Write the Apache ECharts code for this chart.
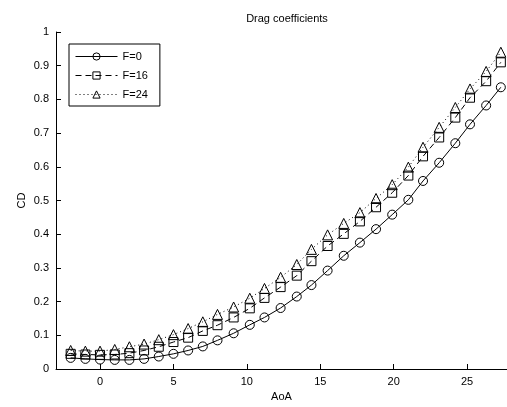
<!DOCTYPE html>
<html>
<head>
<meta charset="utf-8">
<script src="https://cdn.jsdelivr.net/npm/echarts@6/dist/echarts.min.js"></script>
<style>
  html, body { margin: 0; padding: 0; background: #fff; }
  #chart { width: 507px; height: 407px; }
</style>
</head>
<body>
<div id="chart"></div>
<script>
// Angle of attack (deg) for each measured point
const aoa = [-2, -1, 0, 1, 2, 3, 4, 5, 6, 7, 8, 9.1, 10.2, 11.2, 12.3, 13.4, 14.4, 15.5, 16.6, 17.7, 18.8, 19.9, 21.0, 22.0, 23.1, 24.2, 25.2, 26.3, 27.3];

// Drag coefficient for each flap setting
const cdF0 = [0.033, 0.030, 0.028, 0.027, 0.027, 0.030, 0.037, 0.045, 0.055, 0.067, 0.085, 0.106, 0.131, 0.153, 0.181, 0.215, 0.249, 0.292, 0.336, 0.375, 0.415, 0.458, 0.502, 0.558, 0.612, 0.670, 0.726, 0.782, 0.836];
const cdF16 = [0.045, 0.043, 0.042, 0.043, 0.047, 0.055, 0.066, 0.080, 0.093, 0.113, 0.130, 0.153, 0.180, 0.211, 0.243, 0.277, 0.320, 0.365, 0.401, 0.438, 0.480, 0.523, 0.574, 0.631, 0.687, 0.746, 0.805, 0.854, 0.910];
const cdF24 = [0.055, 0.053, 0.053, 0.058, 0.066, 0.074, 0.087, 0.102, 0.120, 0.140, 0.162, 0.184, 0.210, 0.239, 0.272, 0.310, 0.355, 0.398, 0.432, 0.464, 0.506, 0.547, 0.599, 0.658, 0.717, 0.776, 0.831, 0.883, 0.940];

const seriesNames = ['F=0', 'F=16', 'F=24'];
const xTicks = [0, 5, 10, 15, 20, 25];

const font = 'Liberation Sans, Arial, sans-serif';
const pair = (ys) => aoa.map((x, i) => [x, ys[i]]);

function lineSeries(name, ys, symbol, size, dash) {
  return {
    name: name,
    type: 'line',
    data: pair(ys),
    symbol: symbol,
    symbolSize: size,
    showSymbol: true,
    showAllSymbol: true,
    lineStyle: { color: '#000', width: 1, type: dash },
    itemStyle: { color: 'rgba(255,255,255,0)', borderColor: '#000', borderWidth: 1 },
    emphasis: { disabled: true },
    z: 3
  };
}

const chart = echarts.init(document.getElementById('chart'), null, { renderer: 'canvas' });
chart.setOption({
  animation: false,
  backgroundColor: '#fff',
  title: {
    text: 'Drag coefficients',
    left: 282,
    textAlign: 'center',
    top: 8,
    textStyle: { fontFamily: font, fontSize: 11, fontWeight: 'normal', color: '#000' }
  },
  legend: {
    left: 69,
    top: 44,
    orient: 'vertical',
    itemWidth: 42,
    itemHeight: 9,
    itemGap: 8,
    padding: [7, 12, 6, 6],
    borderColor: '#000',
    borderWidth: 1,
    backgroundColor: '#fff',
    lineStyle: { width: 1, color: '#000' },
    itemStyle: { borderWidth: 1, borderColor: '#000', color: 'rgba(255,255,255,0)' },
    textStyle: { fontFamily: font, fontSize: 11, color: '#000' },
    data: seriesNames
  },
  grid: { left: 56, right: 0, top: 32, bottom: 35, containLabel: false },
  xAxis: {
    type: 'value',
    min: -3,
    max: 27.72,
    name: 'AoA',
    nameLocation: 'middle',
    nameGap: 22,
    nameMoveOverlap: false,
    nameTextStyle: { fontFamily: font, fontSize: 11, color: '#000' },
    axisLine: { onZero: false, lineStyle: { color: '#000', width: 1 } },
    axisTick: { inside: true, length: 5, customValues: xTicks, lineStyle: { color: '#000' } },
    axisLabel: { customValues: xTicks, margin: 7, fontFamily: font, fontSize: 11, color: '#000' },
    splitLine: { show: false }
  },
  yAxis: {
    type: 'value',
    min: 0,
    max: 1,
    interval: 0.1,
    name: 'CD',
    nameLocation: 'middle',
    nameGap: 29,
    nameMoveOverlap: false,
    nameRotate: 90,
    nameTextStyle: { fontFamily: font, fontSize: 11, color: '#000' },
    axisLine: { show: true, onZero: false, lineStyle: { color: '#000', width: 1 } },
    axisTick: { show: true, inside: true, length: 5, lineStyle: { color: '#000' } },
    axisLabel: {
      margin: 7, fontFamily: font, fontSize: 11, color: '#000',
      formatter: (v) => String(Math.round(v * 10) / 10)
    },
    splitLine: { show: false }
  },
  series: [
    lineSeries(seriesNames[0], cdF0, 'circle', 9, 'solid'),
    lineSeries(seriesNames[1], cdF16, 'rect', 9, [6, 4]),
    lineSeries(seriesNames[2], cdF24, 'triangle', 10, [1, 3])
  ]
});
</script>
</body>
</html>
